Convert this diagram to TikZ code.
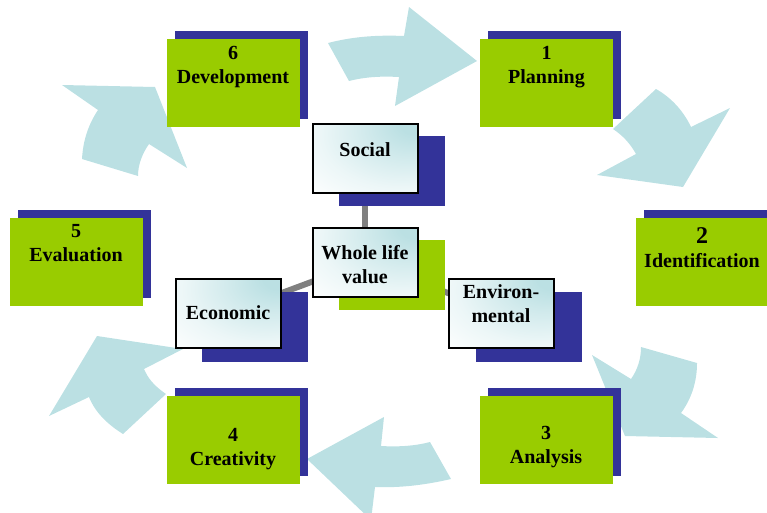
\documentclass[tikz,border=0pt]{standalone}
\usepackage{fontspec}
\setmainfont{Liberation Serif}
\usetikzlibrary{shadows}
\definecolor{arrowteal}{HTML}{BBE0E3}
\definecolor{shadowblue}{HTML}{333399}
\definecolor{boxgreen}{HTML}{99CC00}
\definecolor{linkgray}{HTML}{808080}
\pgfdeclareradialshading{boxglow}{\pgfpoint{27bp}{27bp}}{%
  color(0bp)=(arrowteal);color(8bp)=(arrowteal);color(22bp)=(arrowteal!65!white);color(38bp)=(arrowteal!28!white);color(52bp)=(arrowteal!6!white);color(60bp)=(white);color(100bp)=(white)}
\pgfdeclarelayer{back}
\pgfsetlayers{back,main}
\tikzset{
  flow/.style={fill=arrowteal,draw=none},
  link/.style={draw=linkgray,line width=6pt},
  backbox/.style={fill=shadowblue,draw=none,inner sep=0pt,minimum width=133pt,minimum height=88pt},
  greenbox/.style={fill=boxgreen,draw=none,inner sep=0pt,minimum width=133pt,minimum height=88pt},
  smallback/.style={fill=shadowblue,draw=none,inner sep=0pt,minimum width=106pt,minimum height=70pt},
  smallgreen/.style={fill=boxgreen,draw=none,inner sep=0pt,minimum width=106pt,minimum height=70pt},
  glowbox/.style={draw=black,line width=2pt,shading=boxglow,inner sep=0pt,minimum width=105pt,minimum height=69pt,
    general shadow={fill=linkgray,shadow xshift=0.6pt,shadow yshift=-0.6pt}},
  label/.style={font=\fontsize{20}{24}\selectfont\bfseries,align=center,inner sep=0pt,text=black},
}
\begin{document}
\begin{tikzpicture}[x=1pt,y=-1pt]
\useasboundingbox (0,0) rectangle (767,512);
% step boxes
\node[backbox] (s1) at (554.5,75) {};
\node[greenbox] (b1) at (546.5,83) {};
\node[backbox] (s6) at (241.5,75) {};
\node[greenbox] (b6) at (233.5,83) {};
\node[backbox] (s2) at (710.5,254) {};
\node[greenbox] (b2) at (702.5,262) {};
\node[backbox] (s5) at (84.5,254) {};
\node[greenbox] (b5) at (76.5,262) {};
\node[backbox] (s3) at (554.5,432) {};
\node[greenbox] (b3) at (546.5,440) {};
\node[backbox] (s4) at (241.5,432) {};
\node[greenbox] (b4) at (233.5,440) {};
% central boxes
\node[smallgreen] (wg) at (392,275) {};
\node[smallback] (socs) at (392,171) {};
\node[smallback] (ecos) at (255,327) {};
\node[smallback] (envs) at (529,327) {};
\node[glowbox] (social) at (365,158) {};
\node[glowbox] (economic) at (228,313) {};
\node[glowbox] (environ) at (501.5,313) {};
\node[glowbox] (whole) at (365,262) {};
% texts
\node[label] (t1) at (546.5,67) {1\\Planning};
\node[label] (t6) at (233,67) {6\\Development};
\node[label] (t2) at (702,248) {{\fontsize{24}{24}\selectfont 2}\\Identification};
\node[label] (t5) at (76,243.5) {5\\Evaluation};
\node[label] (t3) at (546,447) {3\\Analysis};
\node[label] (t4) at (233,449) {4\\Creativity};
\node[label] (tsoc) at (365,150) {Social};
\node[label] (twho) at (365,265) {Whole life\\value};
\node[label] (teco) at (228,313) {Economic};
\node[label] (tenv) at (501,303.5) {Environ-\\mental};
\begin{pgfonlayer}{back}
  \draw[link] (whole.center) -- (social.center);
  \draw[link] (whole.center) -- (economic.center);
  \draw[link] (whole.center) -- (environ.center);
  \path[flow] (328,43) .. controls (355,36) and (380,35) .. (404,36) -- (409,7) -- (477,61) -- (395,106) -- (399,77) .. controls (380,76) and (365,77) .. (349,81) -- cycle;
  \path[flow] (656,89) .. controls (672,98) and (684,112) .. (691,127) -- (730,108) -- (683,187) -- (597,175) -- (636,154) .. controls (630,143) and (622,135) .. (613,129) -- cycle;
  \path[flow] (641,347) .. controls (641,358) and (638,369) .. (631,379) -- (592,355) -- (625,436) -- (718,438) -- (681,413) .. controls (692,398) and (697,381) .. (697,363) -- cycle;
  \path[flow] (430,442) .. controls (415,446) and (398,447) .. (381,446) -- (384,417) -- (307,459) -- (371,520) -- (375,487) .. controls (400,488) and (425,485) .. (451,479) -- cycle;
  \path[flow] (166,394) .. controls (153,385) and (148,378) .. (144,369) -- (183,349) -- (97,336) -- (49,416) -- (89,397) .. controls (95,412) and (107,424) .. (123,434) -- cycle;
  \path[flow] (62,85) -- (155,87) -- (187,168) -- (149,144) .. controls (142,154) and (138,165) .. (138,176) -- (82,159) .. controls (83,141) and (88,125) .. (98,110) -- cycle;
\end{pgfonlayer}
\end{tikzpicture}
\end{document}
